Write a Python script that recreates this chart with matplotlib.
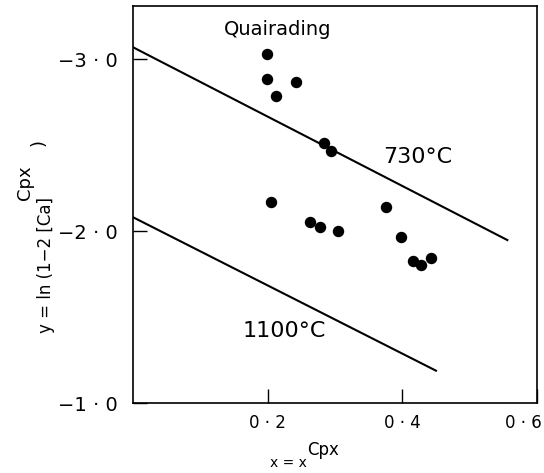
"""Quairading clinopyroxene plot: y = ln(1-2[Ca]) vs x^Cpx with isotherms."""

from matplotlib import pyplot as plt
from matplotlib import transforms as mtransforms

# measured points (Quairading)
x_cpx = [0.199, 0.199, 0.242, 0.213, 0.283, 0.294, 0.205, 0.263, 0.277, 0.304,
         0.376, 0.398, 0.416, 0.428, 0.443]
y_cpx = [-3.033, -2.888, -2.865, -2.787, -2.510, -2.467, -2.170, -2.054, -2.022, -2.002,
         -2.141, -1.967, -1.827, -1.802, -1.845]

# isotherms (end points)
x_730 = [0.0, 0.556]
y_730 = [-3.07, -1.948]
x_1100 = [0.0, 0.450]
y_1100 = [-2.081, -1.188]

x_ticks = [0.2, 0.4, 0.6]
x_tick_labels = ['0 · 2', '0 · 4', '0 · 6']
y_ticks = [-3.0, -2.0, -1.0]
y_tick_labels = ['\u22123 · 0', '\u22122 · 0', '\u22121 · 0']

W, H = 544, 473
fig = plt.figure(figsize=(W / 100, H / 100), dpi=100)
ax = fig.add_axes([133 / W, 1 - 403 / H, 404 / W, 397 / H])

ax.plot(x_730, y_730, color='black', lw=1.5)
ax.plot(x_1100, y_1100, color='black', lw=1.5)
ax.scatter(x_cpx, y_cpx, s=52, color='black', zorder=3)

ax.text(0.2155, -3.174, 'Quairading', fontsize=14, ha='center', va='center')
ax.text(0.3715, -2.430, '730°C', fontsize=16, ha='left', va='center')
ax.text(0.162, -1.419, '1100°C', fontsize=16, ha='left', va='center')

ax.set_xlim(0, 0.6)
ax.set_ylim(-1.0, -3.31)
ax.set_xticks(x_ticks)
ax.set_xticklabels(x_tick_labels, fontsize=12)
ax.set_yticks(y_ticks)
ax.set_yticklabels(y_tick_labels, fontsize=14)
ax.tick_params(direction='in', length=10, width=1.0)
ax.tick_params(axis='x', pad=8)
ax.tick_params(axis='y', pad=11)

# last x label sits a little left of its tick
lab = ax.get_xticklabels()[-1]
lab.set_transform(lab.get_transform() + mtransforms.ScaledTranslation(-14 / 100, 0, fig.dpi_scale_trans))

for spine in ax.spines.values():
    spine.set_linewidth(1.2)

# axis titles (superscript drawn as its own text, as large as the main text)
fig.text(270 / W, 1 - 467 / H, 'x = x', fontsize=10, ha='left', va='baseline')
fig.text(307 / W, 1 - 455 / H, 'Cpx', fontsize=12, ha='left', va='baseline')

fig.text(55 / W, 1 - 333 / H, 'y = ln (1\u22122 [Ca]', fontsize=12, rotation=90,
         ha='right', va='bottom')
fig.text(34 / W, 1 - 200 / H, 'Cpx', fontsize=13, rotation=90, ha='right', va='bottom')
fig.text(48 / W, 1 - 146 / H, ')', fontsize=13, rotation=90, ha='right', va='bottom')

plt.savefig('out.png', dpi=100)
